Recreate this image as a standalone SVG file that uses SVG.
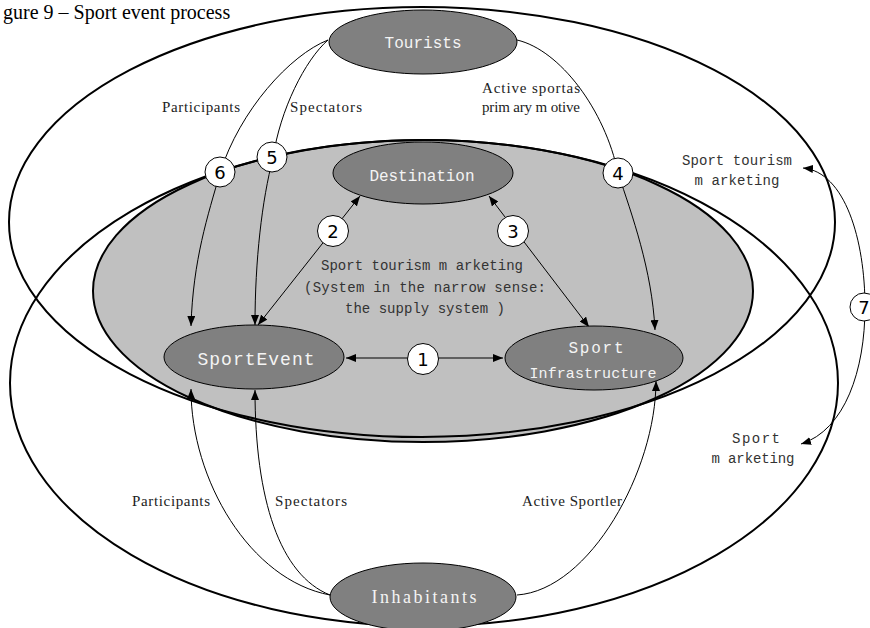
<svg xmlns="http://www.w3.org/2000/svg" width="870" height="628" viewBox="0 0 870 628">
<defs>
<marker id="ah" viewBox="0 0 10 8" refX="10" refY="4" markerWidth="10" markerHeight="8" markerUnits="userSpaceOnUse" orient="auto-start-reverse"><path d="M0,0 L10,4 L0,8 z" fill="#000"/></marker>
</defs>
<style>
.big{fill:none;stroke:#000;stroke-width:2}
.sys{fill:#c0c0c0;stroke:#000;stroke-width:2}
.node ellipse{fill:#808080;stroke:#000;stroke-width:1}
.nl{font-family:"Liberation Mono","DejaVu Sans Mono",monospace;fill:#f4f4f4;text-anchor:middle}
.nls{font-family:"Liberation Serif",serif;fill:#f4f4f4;text-anchor:middle}
.num circle{fill:#fff;stroke:#000;stroke-width:1}
.num text{font-family:"DejaVu Sans",sans-serif;font-size:18px;text-anchor:middle;fill:#000}
.conn path{fill:none;stroke:#000;stroke-width:1}
.arr{marker-end:url(#ah)}
.arr2{marker-start:url(#ah);marker-end:url(#ah)}
.lbl{font-family:"Liberation Serif",serif;font-size:15px;fill:#222}
.mono{font-family:"Liberation Mono","DejaVu Sans Mono",monospace;font-size:14px;fill:#333;text-anchor:middle}
</style>
<rect width="870" height="628" fill="#fff"/>
<text x="3" y="19" font-family="Liberation Serif, serif" font-size="20" fill="#000">gure 9 – Sport event process</text>

<g id="areas">
<ellipse class="sys" cx="423" cy="291" rx="330" ry="151"/>
<ellipse class="big" cx="422" cy="222" rx="413" ry="215"/>
<ellipse class="big" cx="424" cy="383" rx="414" ry="243"/>
</g>

<g id="connectors" class="conn">
<path d="M328,40 C290,55 240,110 220,173"/>
<path class="arr" d="M220,173 C208,215 193,260 191,326"/>
<path d="M328,40 C305,60 280,110 273,158"/>
<path class="arr" d="M273,158 C262,200 255,260 255,325"/>
<path d="M517,40 C560,50 605,110 618,173"/>
<path class="arr" d="M618,173 C632,215 652,270 655,330"/>
<path class="arr" d="M330,595 C250,580 191,480 191,389"/>
<path class="arr" d="M330,595 C280,575 255,500 255,390"/>
<path class="arr" d="M517,595 C590,590 656,470 656,381"/>
<path class="arr2" d="M346,358 L503,358"/>
<path class="arr2" d="M258,325 L360,196"/>
<path class="arr2" d="M489,196 L589,327"/>
<path class="arr2" d="M803,168 C845,172 865,240 865,307 C865,370 845,430 801,444"/>
</g>

<g id="tourists" class="node"><ellipse cx="423" cy="42" rx="94" ry="32"/><text class="nl" x="423" y="48" font-size="16" textLength="77">Tourists</text></g>
<g id="destination" class="node"><ellipse cx="423" cy="173" rx="90" ry="31"/><text class="nl" x="422" y="181" font-size="16" textLength="105">Destination</text></g>
<g id="sportevent" class="node"><ellipse cx="254" cy="357" rx="90" ry="32"/><text class="nl" x="256" y="365" font-size="18" textLength="117">SportEvent</text></g>
<g id="infrastructure" class="node"><ellipse cx="594" cy="358" rx="89" ry="32"/><text class="nl" x="596" y="353" font-size="16" textLength="55">Sport</text><text class="nl" x="593" y="378" font-size="15" textLength="127">Infrastructure</text></g>
<g id="inhabitants" class="node"><ellipse cx="423" cy="597" rx="93" ry="34"/><text class="nls" x="424" y="603" font-size="18" textLength="105">Inhabitants</text></g>

<g id="n1" class="num"><circle cx="423" cy="359" r="15.5"/><text x="423" y="365.5">1</text></g>
<g id="n2" class="num"><circle cx="333" cy="231" r="15.5"/><text x="333" y="237.5">2</text></g>
<g id="n3" class="num"><circle cx="513" cy="231" r="15.5"/><text x="513" y="237.5">3</text></g>
<g id="n4" class="num"><circle cx="618" cy="173" r="15"/><text x="618" y="179.5">4</text></g>
<g id="n5" class="num"><circle cx="272" cy="157" r="15"/><text x="272" y="163.5">5</text></g>
<g id="n6" class="num"><circle cx="220" cy="172" r="15"/><text x="220" y="178.5">6</text></g>
<g id="n7" class="num"><circle cx="864" cy="307" r="14"/><text x="864" y="313.5">7</text></g>

<g id="labels">
<text class="lbl" x="162" y="112" textLength="78">Participants</text>
<text class="lbl" x="290" y="112" textLength="72">Spectators</text>
<text class="lbl" x="482" y="93" textLength="98">Active sportas</text>
<text class="lbl" x="482" y="112" textLength="98">prim ary m otive</text>
<text class="lbl" x="132" y="506" textLength="78">Participants</text>
<text class="lbl" x="275" y="506" textLength="72">Spectators</text>
<text class="lbl" x="522" y="506" textLength="100">Active Sportler</text>
<text class="mono" x="422" y="270" textLength="202">Sport tourism m arketing</text>
<text class="mono" x="425" y="292" textLength="242">(System in the narrow sense:</text>
<text class="mono" x="425" y="313" textLength="160">the supply system )</text>
<text class="mono" x="737" y="165" textLength="110">Sport tourism</text>
<text class="mono" x="737" y="185" textLength="85">m arketing</text>
<text class="mono" x="756" y="443" textLength="48">Sport</text>
<text class="mono" x="753" y="463" textLength="83">m arketing</text>
</g>
</svg>
